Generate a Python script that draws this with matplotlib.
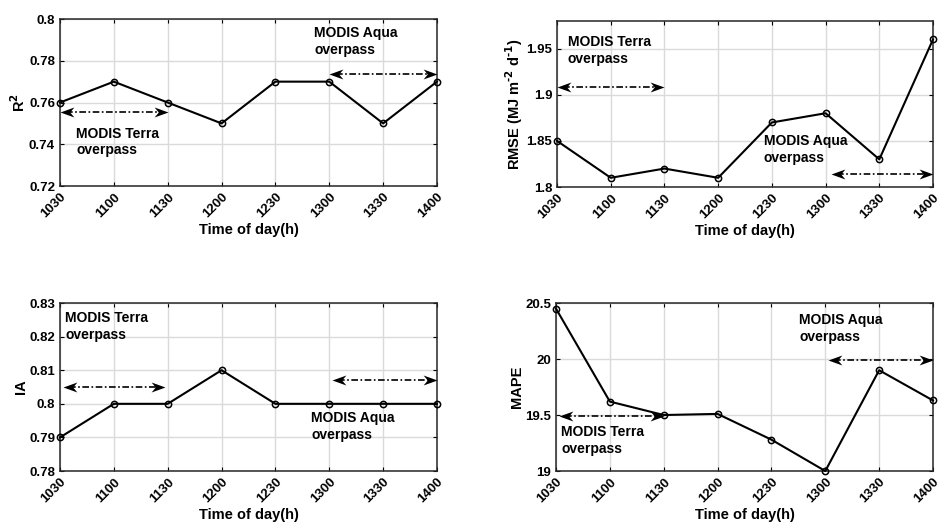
"""Accuracy metrics vs time of day, with MODIS Terra / Aqua overpass windows."""
import matplotlib; matplotlib.use("Agg")
import matplotlib.pyplot as plt
from matplotlib.ticker import FuncFormatter
from matplotlib.path import Path
from matplotlib.markers import MarkerStyle
from matplotlib.transforms import Affine2D
import numpy as np

times = ['1030', '1100', '1130', '1200', '1230', '1300', '1330', '1400']
r2    = [0.76, 0.77, 0.76, 0.75, 0.77, 0.77, 0.75, 0.77]
rmse  = [1.85, 1.81, 1.82, 1.81, 1.87, 1.88, 1.83, 1.96]
ia    = [0.79, 0.80, 0.80, 0.81, 0.80, 0.80, 0.80, 0.80]
mape  = [20.45, 19.62, 19.50, 19.51, 19.28, 19.00, 19.90, 19.63]

plt.rcParams.update({'font.family': 'Liberation Sans', 'font.weight': 'bold',
                     'axes.labelweight': 'bold', 'mathtext.default': 'bf',
                     'font.size': 9.5})

fig = plt.figure(figsize=(9.43, 5.24), dpi=100)
W = 0.3998
panels = [
    # rect, values, ylabel, ylim, yticks, terra(text xy, arrow x0,x1,y), aqua(text xy, arrow x0,x1,y)
    ([0.0636, 0.645, W, 0.3187], r2, 'R$^2$', (0.72, 0.80), [0.72, 0.74, 0.76, 0.78, 0.80],
     ((1.3, 0.7485), (1.0, 3.0, 0.7553)), ((5.72, 0.7965), (6.0, 8.0, 0.7735))),
    ([0.5907, 0.6431, 0.3987, 0.3168], rmse, r'RMSE (MJ m$^{\text{-2}}$ d$^{\text{-1}}$)', (1.80, 1.98),
     [1.80, 1.85, 1.90, 1.95],
     ((1.2, 1.965), (1.0, 3.0, 1.908)), ((4.85, 1.857), (6.1, 8.0, 1.814))),
    ([0.0636, 0.1011, W, 0.3206], ia, 'IA', (0.78, 0.83), [0.78, 0.79, 0.80, 0.81, 0.82, 0.83],
     ((1.1, 0.8275), (1.05, 2.95, 0.805)), ((5.67, 0.7978), (6.05, 8.0, 0.807))),
    ([0.5896, 0.1011, W, 0.3206], mape, 'MAPE', (19.0, 20.5), [19.0, 19.5, 20.0, 20.5],
     ((1.1, 19.41), (1.05, 3.0, 19.494)), ((5.52, 20.41), (6.05, 8.0, 19.99))),
]

x = np.arange(1, len(times) + 1)
fmt = FuncFormatter(lambda v, p: f'{round(v, 4):g}')

# stealth-style arrowhead, tip at the origin pointing to +x
head = Path([(0, 0), (-1, 0.36), (-0.7, 0), (-1, -0.36), (0, 0)],
            [Path.MOVETO, Path.LINETO, Path.LINETO, Path.LINETO, Path.CLOSEPOLY])
head_r = MarkerStyle(head)
head_l = MarkerStyle(head, transform=Affine2D().rotate_deg(180))


def span_arrow(ax, x0, x1, y):
    ax.plot([x0 + 0.12, x1 - 0.12], [y, y], color='black', lw=1.2,
            linestyle=(0, (4, 1.5, 1, 1.5)), zorder=4, clip_on=False)
    ax.plot([x0], [y], marker=head_l, ms=20, color='black', mew=0, zorder=5, clip_on=False)
    ax.plot([x1], [y], marker=head_r, ms=20, color='black', mew=0, zorder=5, clip_on=False)


for rect, vals, ylab, ylim, yt, terra, aqua in panels:
    ax = fig.add_axes(rect)
    ax.plot(x, vals, color='black', lw=1.5, marker='o', ms=4.5, mfc='none', mew=1.1,
            zorder=3, clip_on=False)
    ax.set_xlim(1, 8)
    ax.set_ylim(*ylim)
    ax.set_yticks(yt)
    ax.yaxis.set_major_formatter(fmt)
    ax.set_xticks(x)
    ax.set_xticklabels(times, rotation=45, ha='right', rotation_mode='anchor')
    ax.set_xlabel('Time of day(h)', fontsize=10.5, labelpad=2)
    ax.set_ylabel(ylab, fontsize=10.5, labelpad=1)
    ax.grid(True, color='#dadada', lw=1.0, zorder=0)
    ax.set_axisbelow(True)
    for s in ax.spines.values():
        s.set_linewidth(1.1)
        s.set_color('#262626')
    ax.tick_params(direction='in', length=3, width=0.8, labelsize=9.5, top=True, right=True,
                   labeltop=False, labelright=False)
    for (tx, ty), (a0, a1, ay), name in ((terra[0], terra[1], 'Terra'), (aqua[0], aqua[1], 'Aqua')):
        ax.text(tx, ty, f'MODIS {name}\noverpass', ha='left', va='top', fontsize=10,
                fontweight='bold', linespacing=1.25, zorder=6)
        span_arrow(ax, a0, a1, ay)

fig.savefig('out.png', dpi=100)
print('saved out.png')
